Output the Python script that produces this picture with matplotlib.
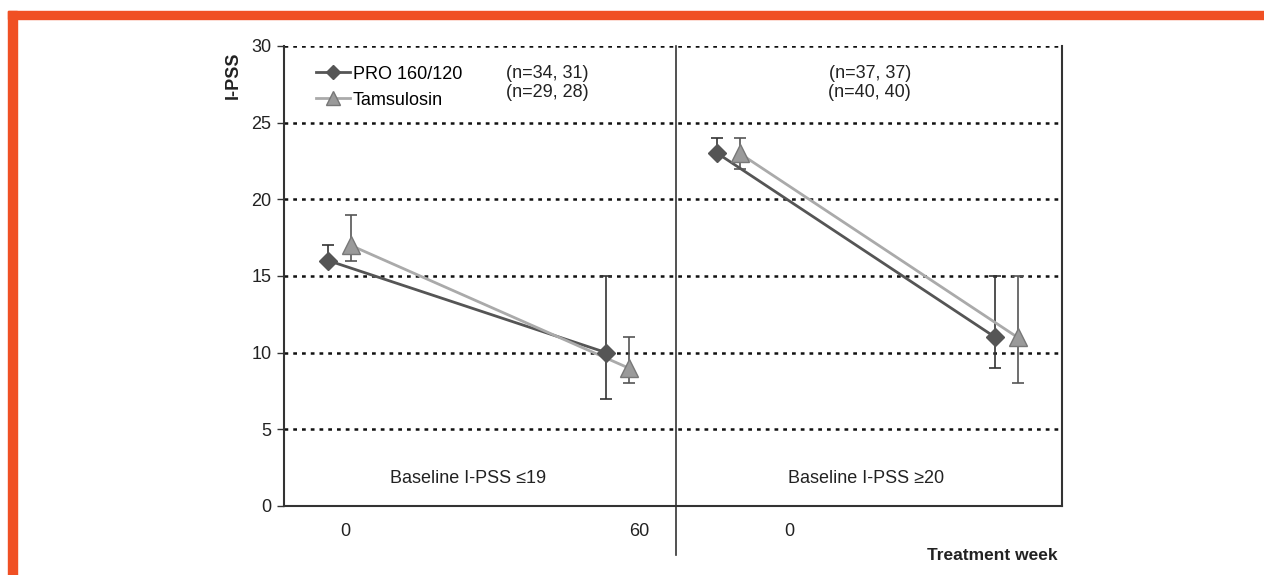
import matplotlib
matplotlib.use("Agg")
import matplotlib.pyplot as plt
from matplotlib.patches import Rectangle
from matplotlib.lines import Line2D

plt.rcParams["font.family"] = ["Liberation Sans", "DejaVu Sans"]

# ---- data ----
groups = ["Baseline I-PSS ≤19", "Baseline I-PSS ≥20"]
group_x = [0.5, 3.0, 4.0, 6.5]          # category positions (baseline/end per panel)
pro_vals = [16, 10, 23, 11]
pro_lo = [16, 7, 23, 9]
pro_hi = [17, 15, 24, 15]
tam_vals = [17, 9, 23, 11]
tam_lo = [16, 8, 22, 8]
tam_hi = [19, 11, 24, 15]
n_texts = [("(n=34, 31)", "(n=29, 28)"), ("(n=37, 37)", "(n=40, 40)")]
xtick_pos = [0.55, 3.2, 4.55]
xtick_labels = ["0", "60", "0"]
yticks = [0, 5, 10, 15, 20, 25, 30]

off = 0.1
pro_col = "#555555"
tam_line = "#aaaaaa"
tam_fill = "#9a9a9a"
FS = 13

fig = plt.figure(figsize=(12.64, 5.75), dpi=100)
# orange frame
fig.patches.append(Rectangle((8/1264, 0), 9/1264, 1 - 11/575, transform=fig.transFigure,
                             color="#F05024", zorder=0))
fig.patches.append(Rectangle((8/1264, 1 - 19/575), 1 - 8/1264, 8/575, transform=fig.transFigure,
                             color="#F05024", zorder=0))

ax = fig.add_axes([284/1264, 69/575, 778/1264, 460/575])
ax.set_xlim(0, 7)
ax.set_ylim(0, 30)

for y in yticks[1:]:
    ax.axhline(y, color="#111111", lw=1.8, ls=(0, (1.5, 2.0)), zorder=1)

for i in range(2):
    a, b = 2 * i, 2 * i + 1
    xs_p = [group_x[a] - off, group_x[b] - off]
    xs_t = [group_x[a] + off, group_x[b] + off]
    ax.plot(xs_p, [pro_vals[a], pro_vals[b]], color=pro_col, lw=2, zorder=3)
    ax.plot(xs_t, [tam_vals[a], tam_vals[b]], color=tam_line, lw=2, zorder=3)
    for j in (a, b):
        ax.errorbar(group_x[j] - off, pro_vals[j],
                    yerr=[[pro_vals[j] - pro_lo[j]], [pro_hi[j] - pro_vals[j]]],
                    fmt="none", ecolor="#333333", elinewidth=1.2, capsize=4, capthick=1.2, zorder=2)
        ax.errorbar(group_x[j] + off, tam_vals[j],
                    yerr=[[tam_vals[j] - tam_lo[j]], [tam_hi[j] - tam_vals[j]]],
                    fmt="none", ecolor="#555555", elinewidth=1.2, capsize=4, capthick=1.2, zorder=2)
    ax.plot(xs_p, [pro_vals[a], pro_vals[b]], ls="none", marker="D", ms=9,
            mfc=pro_col, mec=pro_col, zorder=4)
    ax.plot(xs_t, [tam_vals[a], tam_vals[b]], ls="none", marker="^", ms=13,
            mfc=tam_fill, mec="#777777", zorder=4)

# divider
ax.plot([3.53, 3.53], [-3.2, 30], color="#333333", lw=1.2, clip_on=False, zorder=5)

# spines
ax.spines["top"].set_visible(False)
for s in ("left", "right", "bottom"):
    ax.spines[s].set_color("#333333")
    ax.spines[s].set_linewidth(1.5)

ax.set_yticks(yticks)
ax.set_yticklabels([str(v) for v in yticks], fontsize=FS, color="#222222")
ax.tick_params(axis="y", length=5, width=1, color="#333333", pad=4)
ax.set_xticks(xtick_pos)
ax.set_xticklabels(xtick_labels, fontsize=FS, color="#222222")
ax.tick_params(axis="x", length=0, pad=12)

# texts
ax.text(1.66, 1.8, groups[0], ha="center", va="center", fontsize=FS, color="#222222")
ax.text(5.24, 1.8, groups[1], ha="center", va="center", fontsize=FS, color="#222222")
ax.text(2.37, 27.6, n_texts[0][0] + "\n" + n_texts[0][1], ha="center", va="center",
        fontsize=FS, color="#222222", linespacing=1.15)
ax.text(5.27, 27.6, n_texts[1][0] + "\n" + n_texts[1][1], ha="center", va="center",
        fontsize=FS, color="#222222", linespacing=1.15)
ax.text(-0.46, 28.1, "I-PSS", rotation=90, ha="center", va="center", fontsize=FS,
        fontweight="bold", color="#222222")
fig.text(1058/1264, 1 - 556/575, "Treatment week", ha="right", va="center",
         fontsize=12.5, fontweight="bold", color="#222222")

handles = [
    Line2D([], [], color=pro_col, lw=2, marker="D", ms=7, mfc=pro_col, mec=pro_col),
    Line2D([], [], color=tam_line, lw=2, marker="^", ms=10, mfc=tam_fill, mec="#777777"),
]
ax.legend(handles, ["PRO 160/120", "Tamsulosin"], loc="upper left", bbox_to_anchor=(0.041, 0.957),
          frameon=False, fontsize=FS, handlelength=1.9, handletextpad=0.15, labelspacing=0.5,
          borderaxespad=0, borderpad=0)

fig.savefig("out.png", dpi=100)
